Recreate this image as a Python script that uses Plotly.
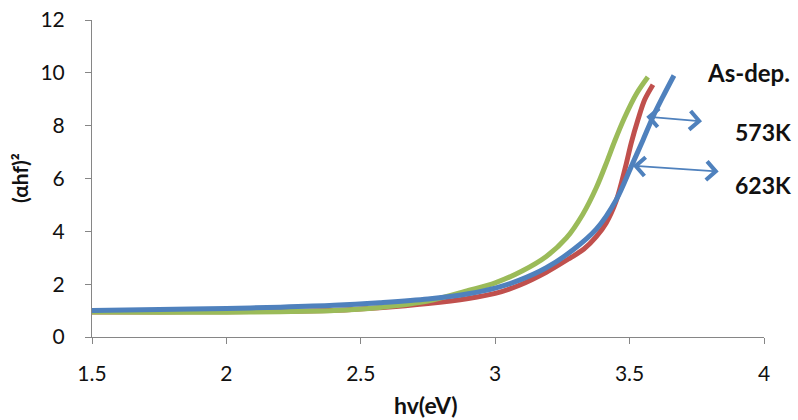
import plotly.graph_objects as go

# Data
hv_asdep = [1.5, 1.75, 2.0, 2.2, 2.4, 2.57, 2.75, 2.9, 3.0, 3.09, 3.19, 3.29, 3.376, 3.45, 3.506, 3.55, 3.587, 3.624, 3.665]
y_asdep = [1.00, 1.04, 1.08, 1.13, 1.20, 1.30, 1.44, 1.64, 1.85, 2.15, 2.62, 3.30, 4.08, 5.19, 6.45, 7.46, 8.34, 9.1, 9.9]

hv_573 = [1.5, 1.75, 2.0, 2.2, 2.4, 2.57, 2.75, 2.9, 3.0, 3.09, 3.19, 3.277, 3.33, 3.376, 3.413, 3.45, 3.485, 3.506, 3.531, 3.556, 3.587]
y_573 = [0.95, 0.95, 0.96, 0.97, 1.01, 1.11, 1.27, 1.46, 1.65, 1.96, 2.45, 2.98, 3.33, 3.8, 4.32, 5.15, 6.45, 7.34, 8.22, 8.98, 9.55]

hv_623 = [1.5, 1.75, 2.0, 2.2, 2.4, 2.57, 2.75, 2.9, 3.0, 3.1, 3.19, 3.265, 3.326, 3.376, 3.416, 3.444, 3.481, 3.525, 3.568]
y_623 = [0.95, 0.94, 0.94, 0.96, 1.00, 1.12, 1.36, 1.76, 2.05, 2.5, 3.05, 3.75, 4.65, 5.65, 6.65, 7.4, 8.3, 9.2, 9.84]

x_ticks = [1.5, 2, 2.5, 3, 3.5, 4]
x_tick_labels = ["1.5", "2", "2.5", "3", "3.5", "4"]
y_ticks = [0, 2, 4, 6, 8, 10, 12]

BLUE = "#4F81BD"
RED = "#C0504D"
GREEN = "#9BBB59"
FONT = "Lato"
TXT = "#111111"

fig = go.Figure()
fig.add_trace(go.Scatter(x=hv_573, y=y_573, mode="lines", name="573K",
                         line=dict(color=RED, width=5, shape="spline", smoothing=0.9)))
fig.add_trace(go.Scatter(x=hv_623, y=y_623, mode="lines", name="623K",
                         line=dict(color=GREEN, width=5, shape="spline", smoothing=0.9)))
fig.add_trace(go.Scatter(x=hv_asdep, y=y_asdep, mode="lines", name="As-dep.",
                         line=dict(color=BLUE, width=5, shape="spline", smoothing=0.9)))

axis_common = dict(showgrid=False, zeroline=False, showline=True, linecolor="#868686",
                   linewidth=1, ticks="outside", ticklen=6, tickcolor="#868686",
                   ticklabeloverflow="allow", automargin=False,
                   tickfont=dict(family=FONT, size=21, color=TXT))

fig.update_xaxes(range=[1.5, 4], tickvals=x_ticks, ticktext=x_tick_labels,
                 ticklabelstandoff=12, **axis_common)
fig.update_yaxes(range=[0, 12], tickvals=y_ticks, ticklabelstandoff=16, **axis_common)

annotations = [
    dict(text="<b>hv(eV)</b>", xref="paper", yref="paper", x=0.497, y=-0.2145, xanchor="center",
         yanchor="middle", showarrow=False, font=dict(family=FONT, size=23, color=TXT)),
    dict(text="<b>(αhf)²</b>", xref="paper", yref="paper", x=-0.107, y=0.502, xanchor="center",
         yanchor="middle", textangle=-90, showarrow=False, font=dict(family=FONT, size=21, color=TXT)),
    dict(text="<b>As-dep.</b>", xref="paper", yref="paper", x=1.042, y=0.833, xanchor="right",
         yanchor="middle", showarrow=False, font=dict(family=FONT, size=24, color=TXT)),
    dict(text="<b>573K</b>", xref="paper", yref="paper", x=1.043, y=0.648, xanchor="right",
         yanchor="middle", showarrow=False, font=dict(family=FONT, size=23, color=TXT)),
    dict(text="<b>623K</b>", xref="paper", yref="paper", x=1.043, y=0.479, xanchor="right",
         yanchor="middle", showarrow=False, font=dict(family=FONT, size=23, color=TXT)),
    dict(x=3.562, y=8.34, ax=3.775, ay=8.16, xref="x", yref="y", axref="x", ayref="y",
         text="", showarrow=True, arrowhead=4, startarrowhead=4, arrowside="end+start",
         arrowsize=2.0, startarrowsize=2.0, arrowwidth=1.8, arrowcolor=BLUE),
    dict(x=3.512, y=6.48, ax=3.837, ay=6.26, xref="x", yref="y", axref="x", ayref="y",
         text="", showarrow=True, arrowhead=4, startarrowhead=4, arrowside="end+start",
         arrowsize=2.0, startarrowsize=2.0, arrowwidth=1.8, arrowcolor=BLUE),
]

fig.update_layout(width=798, height=420, margin=dict(l=92, r=34, t=20, b=83),
                  paper_bgcolor="white", plot_bgcolor="white", showlegend=False,
                  hovermode=False, annotations=annotations)

# remove the page's default body margin so the figure fills the window exactly
fig.write_html("out.html", config={"displayModeBar": False},
               post_script="document.body.style.margin='0';document.body.style.overflow='hidden';")
